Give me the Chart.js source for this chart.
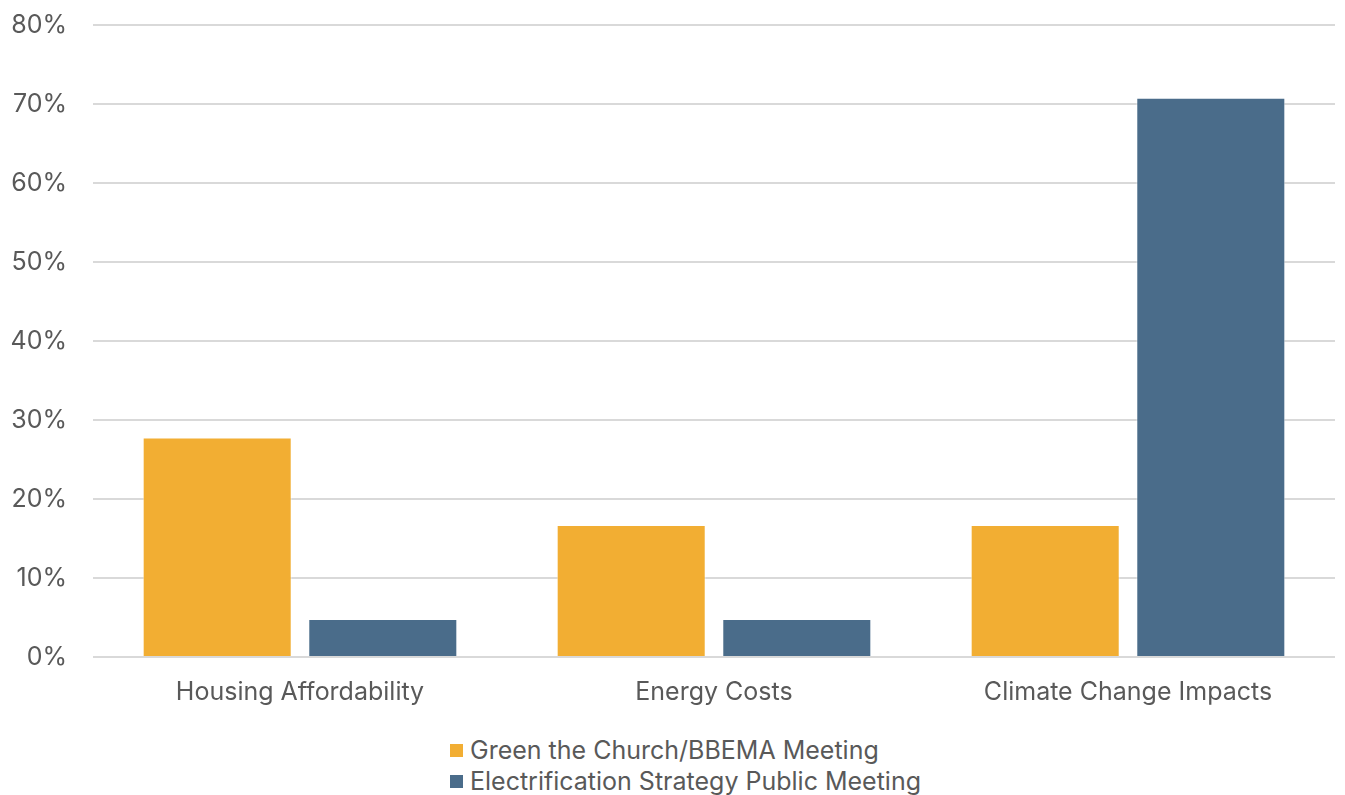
<!DOCTYPE html>
<html>
<head>
<meta charset="utf-8">
<script src="https://cdn.jsdelivr.net/npm/chart.js@4/dist/chart.umd.min.js"></script>
<style>
  html, body { margin: 0; padding: 0; background: #fff; overflow: hidden; }
  #wrap { position: relative; width: 1345px; height: 795px; overflow: hidden; }
  #chartBox { position: absolute; left: 0; top: -16px; width: 1345px; height: 735px; }
  #legend { position: absolute; left: 450px; top: 735px; font-family: Inter, "Noto Sans", sans-serif; font-size: 25px; color: #595959; line-height: 31px; }
  #legend .item { display: flex; align-items: center; white-space: nowrap; }
  #legend .swatch { width: 13px; height: 13px; margin-right: 7px; }
</style>
</head>
<body>
<div id="wrap">
  <div id="chartBox"><canvas id="chart"></canvas></div>
  <div id="legend"></div>
</div>
<script>
const categories = ['Housing Affordability', 'Energy Costs', 'Climate Change Impacts'];
const seriesNames = ['Green the Church/BBEMA Meeting', 'Electrification Strategy Public Meeting'];
const greenChurch = [27.8, 16.7, 16.7];
const electrification = [4.8, 4.8, 70.8];
const colors = ['#F2AE33', '#4A6C8A'];
const yTicks = [0, 10, 20, 30, 40, 50, 60, 70, 80];

const font = "Inter, 'Noto Sans', sans-serif";
const textColor = '#595959';

const chart = new Chart(document.getElementById('chart'), {
    type: 'bar',
    data: {
        labels: categories,
        datasets: [
            { label: seriesNames[0], data: greenChurch, backgroundColor: colors[0], borderColor: 'rgba(255,255,255,0.5)', borderWidth: 1 },
            { label: seriesNames[1], data: electrification, backgroundColor: colors[1], borderColor: 'rgba(255,255,255,0.5)', borderWidth: 1 }
        ]
    },
    options: {
        responsive: true,
        maintainAspectRatio: false,
        animation: false,
        layout: { padding: { top: 0, right: 10, left: 0, bottom: 0 } },
        scales: {
            x: {
                grid: { display: false },
                border: { display: false },
                ticks: { color: textColor, font: { family: font, size: 25 }, padding: 12 }
            },
            y: {
                min: yTicks[0],
                max: yTicks[yTicks.length - 1],
                afterBuildTicks: axis => { axis.ticks = yTicks.map(v => ({ value: v })); },
                afterFit: axis => { axis.width = 93; },
                grid: { color: '#D9D9D9', lineWidth: 2, drawTicks: false },
                border: { display: false },
                ticks: {
                    color: textColor,
                    font: { family: font, size: 25 },
                    padding: 26,
                    callback: v => v + '%'
                }
            }
        },
        plugins: {
            legend: { display: false },
            tooltip: { enabled: false }
        }
    }
});

const legend = document.getElementById('legend');
seriesNames.forEach((name, i) => {
    const item = document.createElement('div');
    item.className = 'item';
    const sw = document.createElement('span');
    sw.className = 'swatch';
    sw.style.background = colors[i];
    const txt = document.createElement('span');
    txt.textContent = name;
    item.appendChild(sw);
    item.appendChild(txt);
    legend.appendChild(item);
});
</script>
</body>
</html>
